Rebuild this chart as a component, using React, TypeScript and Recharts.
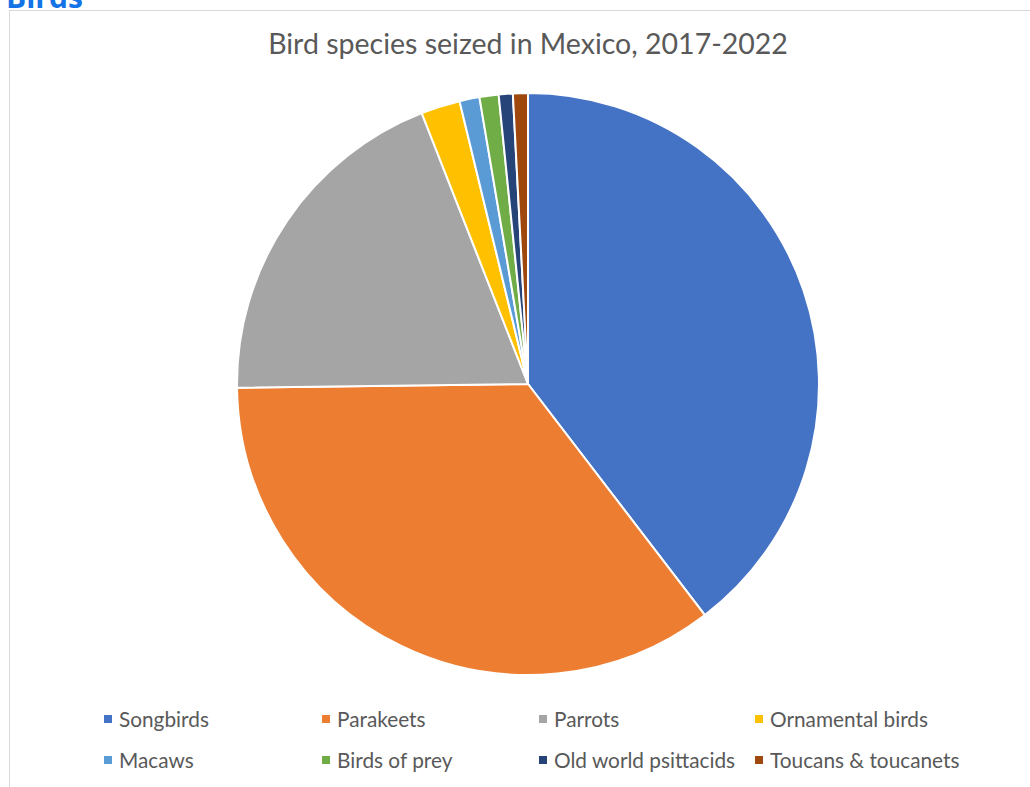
import React from "react";
import { PieChart, Pie, Cell, Legend } from "recharts";

const categories = [
  "Songbirds",
  "Parakeets",
  "Parrots",
  "Ornamental birds",
  "Macaws",
  "Birds of prey",
  "Old world psittacids",
  "Toucans & toucanets",
];
const shares = [39.6, 35.2, 19.25, 2.17, 1.11, 1.06, 0.78, 0.83];
const colors = [
  "#4472C4",
  "#ED7D31",
  "#A5A5A5",
  "#FFC000",
  "#5B9BD5",
  "#70AD47",
  "#264478",
  "#9E480E",
];

const data = categories.map((name, i) => ({ name, value: shares[i] }));

const FONT = "Lato, 'Open Sans', sans-serif";
// legend column x positions (marker left edge) within the chart
const legendCols = [104, 322, 539, 755];

function LegendGrid() {
  return (
    <div style={{ position: "relative", width: 1030, height: 90 }}>
      {categories.map((name, i) => {
        const col = i % 4;
        const row = Math.floor(i / 4);
        return (
          <div
            key={name}
            style={{
              position: "absolute",
              left: legendCols[col],
              top: row * 41,
              display: "flex",
              alignItems: "center",
              fontSize: 20.8,
              color: "#595959",
              fontFamily: FONT,
              whiteSpace: "nowrap",
            }}
          >
            <span
              style={{
                width: 8,
                height: 8,
                background: colors[i],
                marginRight: 7,
                display: "inline-block",
              }}
            />
            {name}
          </div>
        );
      })}
    </div>
  );
}

export default function App() {
  return (
    <div
      style={{
        position: "absolute",
        left: 0,
        top: 0,
        width: 1030,
        height: 787,
        overflow: "hidden",
        background: "#fff",
        fontFamily: FONT,
      }}
    >
      <div
        style={{
          position: "absolute",
          left: 6,
          top: -24,
          fontSize: 30,
          fontWeight: 700,
          color: "#1473E6",
          fontFamily: "'Open Sans', sans-serif",
        }}
      >
        Birds
      </div>
      <div
        style={{
          position: "absolute",
          left: 9,
          top: 10,
          width: 1040,
          height: 800,
          border: "1px solid #d9d9d9",
          boxSizing: "border-box",
        }}
      />
      <div
        style={{
          position: "absolute",
          left: 0,
          top: 26,
          width: 1056,
          textAlign: "center",
          fontSize: 28.5,
          color: "#595959",
        }}
      >
        Bird species seized in Mexico, 2017-2022
      </div>
      <div style={{ position: "absolute", left: 0, top: 0 }}>
        <PieChart width={1030} height={787}>
          <Pie
            data={data}
            dataKey="value"
            nameKey="name"
            cx={523}
            cy={379}
            outerRadius={291}
            startAngle={90}
            endAngle={-270}
            stroke="#fff"
            strokeWidth={2}
            isAnimationActive={false}
          >
            {data.map((d, i) => (
              <Cell key={d.name} fill={colors[i]} />
            ))}
          </Pie>
          <Legend
            content={() => <LegendGrid />}
            wrapperStyle={{ left: 0, top: 706 }}
          />
        </PieChart>
      </div>
    </div>
  );
}
